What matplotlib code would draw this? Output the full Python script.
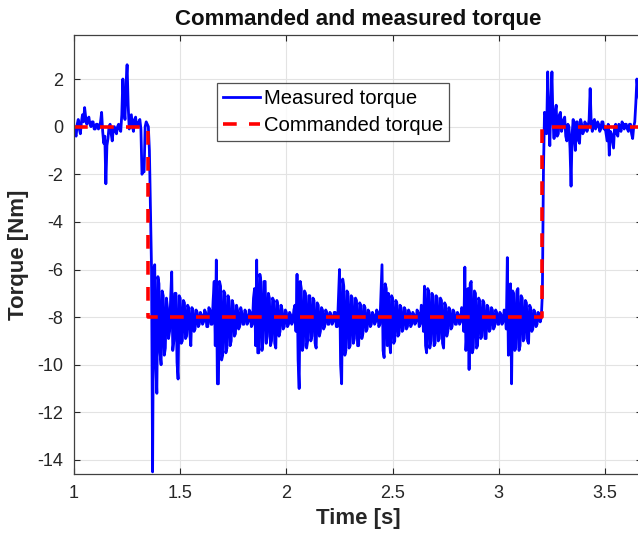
import numpy as np
import matplotlib
matplotlib.use("Agg")
import matplotlib.pyplot as plt

# measured torque, sampled every 5 ms from t = 1.000 s (one row = 0.05 s)
t_start = 1.0
dt = 0.005
measured_torque = [
    0.0, -0.3, -0.4, 0.1, 0.3, -0.1, -0.3, 0.2, 0.5, 0.2,
    0.8, 0.4, 0.1, 0.3, 0.4, 0.1, 0.0, 0.2, 0.2, -0.1,
    -0.1, 0.1, 0.1, -0.1, 0.0, 0.2, 0.6, -0.2, -0.7, -0.4,
    -2.4, -0.8, -0.5, 0.0, 0.1, -0.3, -0.6, -0.1, 0.0, -0.2,
    -0.3, 0.0, 0.1, -0.1, -0.2, 0.5, 2.0, 0.8, 0.3, 1.8,
    2.6, 0.9, -0.1, 0.2, 0.5, 0.0, -0.2, 0.3, 0.4, 0.0,
    0.0, 0.2, 0.3, -0.1, -2.0, -1.9, -1.9, 0.0, 0.2, 0.1,
    0.0, -1.0, -3.5, -6.0, -14.5, -6.0, -5.8, -10.0, -11.2, -6.3,
    -6.6, -9.5, -10.0, -6.9, -7.1, -9.6, -9.3, -7.2, -7.6, -8.9,
    -8.6, -7.2, -6.1, -9.4, -9.0, -7.0, -7.0, -9.9, -10.6, -7.1,
    -7.2, -9.1, -9.0, -7.3, -7.4, -8.9, -8.8, -7.5, -7.6, -8.7,
    -9.2, -7.6, -7.7, -8.6, -8.5, -7.7, -7.8, -8.4, -8.3, -7.8,
    -7.9, -8.3, -8.2, -7.7, -7.8, -8.4, -8.4, -7.6, -7.7, -8.3,
    -8.3, -7.3, -6.5, -9.2, -5.6, -10.8, -10.8, -6.5, -6.7, -9.8,
    -9.6, -6.9, -7.0, -9.5, -9.3, -7.1, -7.3, -9.2, -9.0, -7.3,
    -7.5, -8.8, -8.7, -7.5, -7.7, -8.5, -8.4, -7.6, -7.8, -8.3,
    -8.3, -7.7, -7.9, -8.3, -8.2, -7.7, -7.8, -8.4, -8.3, -7.2,
    -6.8, -9.2, -5.6, -9.5, -9.5, -6.2, -6.5, -9.4, -9.0, -6.5,
    -6.5, -9.1, -8.8, -7.0, -7.2, -9.2, -9.0, -7.2, -7.3, -9.1,
    -9.3, -7.3, -7.5, -8.8, -8.6, -7.5, -7.7, -8.5, -8.4, -7.7,
    -7.8, -8.4, -8.3, -7.8, -7.9, -8.3, -8.2, -7.7, -7.5, -8.6,
    -6.2, -9.8, -11.0, -6.5, -6.8, -9.4, -9.2, -6.9, -7.0, -9.3,
    -9.0, -7.1, -7.1, -9.0, -8.8, -7.2, -7.3, -9.1, -9.3, -7.4,
    -7.5, -8.8, -8.6, -7.6, -7.7, -8.5, -8.4, -7.7, -7.8, -8.3,
    -8.3, -7.8, -7.9, -8.3, -8.2, -7.8, -7.8, -8.4, -8.4, -7.2,
    -6.0, -10.0, -10.8, -6.4, -6.7, -9.6, -9.4, -6.9, -7.0, -9.3,
    -9.2, -7.1, -7.2, -9.1, -8.9, -7.2, -7.3, -9.2, -9.2, -7.4,
    -7.5, -8.9, -8.7, -7.5, -7.6, -8.6, -8.5, -7.7, -7.8, -8.4,
    -8.3, -7.8, -7.9, -8.3, -8.2, -7.7, -7.8, -8.4, -8.3, -7.0,
    -5.8, -9.4, -9.7, -6.6, -6.8, -9.2, -7.0, -9.0, -9.5, -7.1,
    -7.2, -9.1, -9.0, -7.3, -7.4, -8.8, -8.7, -7.5, -7.6, -8.6,
    -8.5, -7.6, -7.7, -8.5, -8.4, -7.7, -7.8, -8.4, -8.3, -7.8,
    -7.9, -8.3, -8.2, -7.7, -7.8, -8.4, -8.3, -7.5, -7.6, -8.6,
    -6.7, -9.2, -9.5, -6.8, -6.9, -9.3, -9.0, -7.0, -7.1, -9.2,
    -9.1, -7.1, -7.2, -9.0, -8.9, -7.2, -7.3, -9.1, -9.3, -7.4,
    -7.5, -8.8, -8.6, -7.6, -7.7, -8.5, -8.4, -7.7, -7.8, -8.3,
    -8.3, -7.8, -7.9, -8.3, -8.2, -7.6, -7.7, -8.6, -5.9, -9.4,
    -8.6, -6.8, -10.2, -6.6, -6.5, -9.5, -9.3, -6.9, -7.0, -9.3,
    -9.2, -7.2, -7.3, -8.9, -8.8, -7.3, -7.4, -8.9, -8.9, -7.5,
    -7.6, -8.6, -8.5, -7.6, -7.7, -8.5, -8.4, -7.7, -7.8, -8.3,
    -8.3, -7.8, -7.9, -8.3, -8.2, -7.7, -7.8, -8.5, -5.5, -9.6,
    -8.9, -6.6, -10.8, -6.9, -7.0, -9.4, -9.3, -6.9, -6.8, -9.4,
    -9.2, -7.1, -7.2, -9.0, -8.9, -7.3, -7.4, -9.0, -9.1, -7.5,
    -7.6, -8.6, -8.5, -7.7, -7.8, -8.4, -8.3, -7.8, -7.9, -8.2,
    -8.0, -7.0, -1.9, 0.6, 0.5, -0.3, 2.3, 0.4, -0.8, 1.0,
    2.3, 0.2, -0.5, 0.6, 0.9, -0.4, -0.3, 0.5, 0.6, -0.2,
    0.0, 0.3, 0.4, -0.4, -0.6, 0.1, 0.0, -0.9, -2.5, -0.3,
    0.3, -0.5, -1.0, 0.2, 0.2, -0.6, -0.7, 0.3, 0.1, -0.3,
    -0.2, 0.2, 0.1, -0.2, 0.0, 0.3, 1.6, 0.1, -0.2, 0.2,
    0.3, -0.1, 0.0, 0.2, 0.1, -0.2, -0.1, 0.2, 0.2, -0.1,
    0.0, -0.3, -0.6, 0.1, -1.2, -0.2, -0.3, -0.6, -0.9, 0.0,
    0.1, -0.3, -0.4, 0.1, 0.0, -0.2, 0.2, 0.1, -0.1, 0.1,
    0.1, -0.1, -0.2, 0.1, 0.1, -0.3, -0.5, 0.0, 0.2, 1.0,
    2.0, 1.5, 1.2, 1.0, 0.8, 0.6,
]

# commanded torque (step profile)
cmd_time = [1.0, 1.348, 1.348, 3.203, 3.203, 3.68]
cmd_torque = [0, 0, -8, -8, 0, 0]

x_ticks = [1, 1.5, 2, 2.5, 3, 3.5]
x_tick_labels = ["1", "1.5", "2", "2.5", "3", "3.5"]
y_ticks = [-14, -12, -10, -8, -6, -4, -2, 0, 2]

plt.rcParams["font.family"] = ["Liberation Sans", "DejaVu Sans"]
plt.rcParams["axes.unicode_minus"] = False

fig = plt.figure(figsize=(6.38, 5.43), dpi=100)
# axes runs a little past the right edge of the image, like the reference crop
ax = fig.add_axes([74 / 638, 69 / 543, 568 / 638, 439 / 543])

t = t_start + dt * np.arange(len(measured_torque))
ax.plot(t, measured_torque, color="#0000ff", lw=2.0, label="Measured torque")
ax.plot(cmd_time, cmd_torque, color="#ff0000", lw=2.6, dashes=(3.8, 3.4),
        label="Commanded torque")

ax.set_xlim(1.0, 3.674)
ax.set_ylim(-14.588, 3.848)
ax.set_xticks(x_ticks)
ax.set_xticklabels(x_tick_labels)
ax.set_yticks(y_ticks)

ax.grid(True, color="#e3e3e3", lw=0.8)
ax.set_axisbelow(True)
ax.tick_params(direction="in", length=4, width=0.8, top=True, right=True,
               labelsize=13, colors="#262626", pad=8)
for sp in ax.spines.values():
    sp.set_color("#404040")
    sp.set_linewidth(0.9)

ax.set_title("Commanded and measured torque", fontsize=16, fontweight="bold",
             color="#111111", pad=7)
ax.set_xlabel("Time [s]", fontsize=16, fontweight="bold", color="#262626", labelpad=4)
ax.set_ylabel("Torque [Nm]", fontsize=16, fontweight="bold", color="#262626", labelpad=6)

leg = ax.legend(loc="upper left", bbox_to_anchor=((217 - 74) / 568, 1 - (83 - 35) / 439),
                borderaxespad=0, fontsize=14.6, frameon=True, fancybox=False,
                handlelength=1.8, handletextpad=0.2, borderpad=0.3,
                labelspacing=0.4)
leg.get_frame().set_edgecolor("#262626")
leg.get_frame().set_linewidth(0.9)

fig.savefig("out.png", dpi=100, facecolor="white")
